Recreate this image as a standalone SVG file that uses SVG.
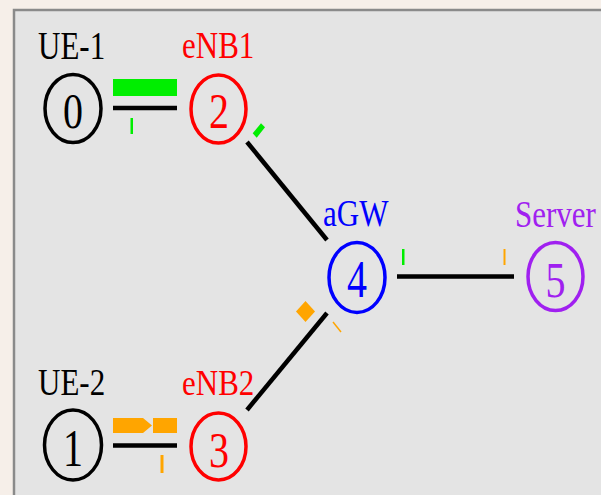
<svg xmlns="http://www.w3.org/2000/svg" width="601" height="495" viewBox="0 0 601 495">
<style>
.node{fill:none;stroke-width:3.5}
.lbl{font-family:"Liberation Serif","Times New Roman",serif;font-size:31px}
.dig{font-family:"Liberation Serif","Times New Roman",serif;font-size:40px;text-anchor:middle}
.link{stroke:#000;stroke-width:4.5;fill:none}
.grn{fill:#00ee00}
.org{fill:#ffa500}
</style>
<rect x="0" y="0" width="601" height="495" fill="#f6efe9"/>
<rect x="14" y="10" width="600" height="500" fill="#e4e4e4" stroke="#8a8a8a" stroke-width="2.5"/>
<g id="connectors">
  <line class="link" x1="113" y1="108" x2="177" y2="108"/>
  <line class="link" x1="247" y1="142" x2="327" y2="240" stroke-width="4"/>
  <line class="link" x1="247" y1="410" x2="327" y2="313" stroke-width="4"/>
  <line class="link" x1="397" y1="276.5" x2="514" y2="276.5"/>
  <line class="link" x1="113" y1="445.5" x2="177" y2="445.5"/>
</g>
<g id="packets">
  <rect class="grn" x="113" y="79" width="64" height="17"/>
  <rect class="grn" x="130.5" y="118" width="2.5" height="16"/>
  <polygon class="grn" points="252.7,133.3 256.7,137.7 265,127.3 261,123.3"/>
  <rect class="grn" x="402" y="249" width="2.5" height="16"/>
  <rect class="org" x="503.5" y="249" width="2" height="16"/>
  <polygon class="org" points="305.5,301 315,311.5 305.5,322 296,311.5"/>
  <line x1="333" y1="322" x2="341" y2="332" stroke="#ffa500" stroke-width="1.5"/>
  <polygon class="org" points="113,418 143,418 152,425.5 143,433 113,433"/>
  <rect class="org" x="153" y="418" width="24" height="15"/>
  <rect class="org" x="160.5" y="455" width="3" height="18"/>
</g>
<g id="node0">
  <ellipse class="node" cx="73" cy="108.5" rx="28" ry="34" stroke="#000"/>
  <text class="dig" transform="translate(73,128) scale(1,1.25)" fill="#000">0</text>
  <text class="lbl" transform="translate(38,59) scale(1,1.3)" fill="#000">UE-1</text>
</g>
<g id="node2">
  <ellipse class="node" cx="218.5" cy="109" rx="27.5" ry="34" stroke="#ff0000"/>
  <text class="dig" transform="translate(219,128) scale(1,1.25)" fill="#ff0000">2</text>
  <text class="lbl" transform="translate(182,58) scale(1,1.2)" fill="#ff0000">eNB1</text>
</g>
<g id="node4">
  <ellipse class="node" cx="357" cy="277.5" rx="28" ry="35" stroke="#0000ff"/>
  <text class="dig" transform="translate(357,297) scale(1,1.3)" fill="#0000ff">4</text>
  <text class="lbl" transform="translate(323,226) scale(1,1.2)" fill="#0000ff">aGW</text>
</g>
<g id="node5">
  <ellipse class="node" cx="555.5" cy="276.5" rx="27.5" ry="34" stroke="#a020f0"/>
  <text class="dig" transform="translate(555.5,296.5) scale(1,1.25)" fill="#a020f0">5</text>
  <text class="lbl" transform="translate(515,227) scale(1,1.25)" fill="#a020f0">Server</text>
</g>
<g id="node1">
  <ellipse class="node" cx="73" cy="445" rx="28.5" ry="35" stroke="#000"/>
  <text class="dig" transform="translate(73,466) scale(1,1.3)" fill="#000">1</text>
  <text class="lbl" transform="translate(38,395) scale(1,1.25)" fill="#000">UE-2</text>
</g>
<g id="node3">
  <ellipse class="node" cx="218.5" cy="446.5" rx="27.5" ry="33.5" stroke="#ff0000"/>
  <text class="dig" transform="translate(219,466.5) scale(1,1.25)" fill="#ff0000">3</text>
  <text class="lbl" transform="translate(182,395) scale(1,1.15)" fill="#ff0000">eNB2</text>
</g>
</svg>
